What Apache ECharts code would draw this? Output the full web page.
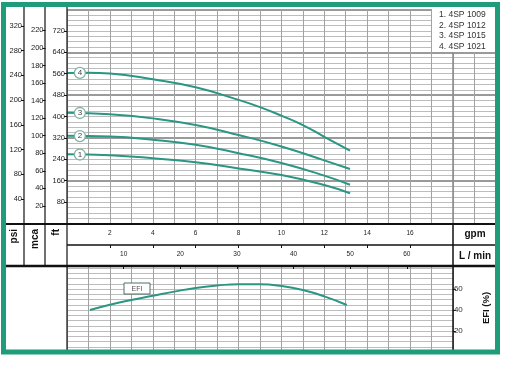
<!DOCTYPE html>
<html><head><meta charset="utf-8">
<script src="https://cdn.jsdelivr.net/npm/echarts@6/dist/echarts.min.js"></script>
<style>html,body{margin:0;padding:0;background:#fff}#c{width:509px;height:367px}</style>
</head><body><div id="c"></div>
<script>
// ---- data (flow in US gpm, head in ft, efficiency in %) ----
const flow4 = [0, 1, 2, 4, 6, 8, 9, 10, 11, 12, 13.2];
const head4 = [563, 564, 561, 539, 509, 462, 435, 403, 368, 324, 272];
const flowA = [0, 2, 4, 6, 8, 10, 12, 13.2];
const head3 = [414, 408, 393, 368, 331, 288, 236, 204];
const head2 = [328, 325, 313, 294, 263, 226, 179, 145];
const head1 = [259, 255, 244, 229, 206, 181, 144, 113];
const markerFlow = [0.6, 0.6, 0.6, 0.6];
const markerHead = [258, 327, 413, 563];
const markerText = ['1', '2', '3', '4'];
const models = ['1. 4SP 1009', '2. 4SP 1012', '3. 4SP 1015', '4. 4SP 1021'];
const efiFlow = [1.07, 2, 3, 4, 5, 6, 7, 8, 9, 10, 11, 12, 13.05];
const efiVal = [40, 45, 49.5, 53.5, 57.5, 61, 63.3, 64.6, 64.5, 62.8, 59, 53, 44.8];
// tick labels
const psiTicks = [40, 80, 120, 160, 200, 240, 280, 320];
const mcaTicks = [20, 40, 60, 80, 100, 120, 140, 160, 180, 200, 220];
const ftTicks = [80, 160, 240, 320, 400, 480, 560, 640, 720];
const gpmTicks = [2, 4, 6, 8, 10, 12, 14, 16];
const lpmTicks = [10, 20, 30, 40, 50, 60];
const efiTicks = [20, 40, 60];
// unit conversions
const FT_PER_M = 3.28084, FT_PER_PSI = 2.30666, LPM_PER_GPM = 3.78541;
const FT_MAX = 800, GPM_MAX_TOP = 20, GPM_MAX = 18;

const pair = (xs, ys) => xs.map((x, i) => [x, ys[i]]);
const FONT = '"Liberation Sans", Arial, sans-serif';
const TEAL = '#2a9683';
const chart = echarts.init(document.getElementById('c'), null, {renderer: 'canvas'});

const hidden = {show: false};
function leftAxis(max, offset, list) {
  return {gridIndex: 0, type: 'value', position: 'left', offset: offset, min: 0, max: max,
    axisLine: {show: false},
    axisTick: {show: true, length: 3, customValues: list, lineStyle: {color: '#111', width: 1}},
    axisLabel: {show: true, customValues: list, fontSize: 7.5, fontFamily: FONT, color: '#222', margin: 2},
    splitLine: {show: false}};
}
function gridAxis(gi, max, interval, color, width, pos) {
  return {gridIndex: gi, type: 'value', position: pos || 'left', min: 0, max: max, interval: interval,
    axisLine: hidden, axisTick: hidden, axisLabel: hidden,
    splitLine: {show: true, lineStyle: {color: color, width: width}}};
}
function flowAxis(gi, max, list) {
  return {gridIndex: gi, type: 'value', position: 'top', min: 0, max: max,
    axisLine: hidden, splitLine: hidden,
    axisTick: {show: true, inside: true, length: 3, customValues: list, lineStyle: {color: '#111'}},
    axisLabel: {show: true, inside: true, customValues: list, margin: 6, fontSize: 6.5, fontFamily: FONT, color: '#222'}};
}

const line = (x1, y1, x2, y2, w, c) => ({type: 'line', z: 50, shape: {x1, y1, x2, y2},
  style: {stroke: c || '#111', lineWidth: w}, silent: true});
const text = (x, y, t, font, align, rot, fill) => ({type: 'text', z: 60, x, y, rotation: rot || 0,
  style: {text: t, font: font, fill: fill || '#111', textAlign: align || 'center', align: align || 'center',
    textVerticalAlign: 'middle', verticalAlign: 'middle'}});

const graphics = [
  line(24, 7, 24, 266, 1.2), line(45, 7, 45, 266, 1.2), line(67, 7, 67, 350, 1.2),
  line(453, 9.5, 453, 224, 1.5, '#8a8a8a'), line(453, 224, 453, 350, 1.5),
  line(5, 224, 495, 224, 2), line(67, 245, 495, 245, 1.3), line(5, 266, 495, 266, 2.5),
  {type: 'rect', z: 55, shape: {x: 432, y: 7, width: 63, height: 45}, style: {fill: '#fff'}},
  text(14, 229, 'psi', 'bold 10px ' + FONT, 'right', Math.PI / 2),
  text(35, 229, 'mca', 'bold 10px ' + FONT, 'right', Math.PI / 2),
  text(56, 229, 'ft', 'bold 10px ' + FONT, 'right', Math.PI / 2),
  text(475, 234, 'gpm', 'bold 10px ' + FONT),
  text(475, 256, 'L / min', 'bold 10px ' + FONT),
  text(486, 308, 'EFI (%)', 'bold 9.5px ' + FONT, 'center', Math.PI / 2),
  {type: 'rect', z: 55, shape: {x: 124, y: 283, width: 26, height: 11},
    style: {fill: '#fff', stroke: '#4f6f66', lineWidth: 1}},
  text(137, 288.7, 'EFI', '7px ' + FONT, 'center', 0, '#555'),
  {type: 'rect', z: 100, shape: {x: 3.5, y: 4.5, width: 494, height: 347.5},
    style: {fill: 'none', stroke: '#1f9d7a', lineWidth: 5}}
];
models.forEach((m, i) => graphics.push(text(439, 15 + i * 10.4, m, '8.5px ' + FONT, 'left', 0, '#333')));

const curveStyle = {color: TEAL, width: 2};
const curve = (d) => ({type: 'line', xAxisIndex: 0, yAxisIndex: 0, data: d, smooth: 0.5,
  showSymbol: false, lineStyle: curveStyle, z: 3, silent: true});

chart.setOption({
  animation: false,
  backgroundColor: '#fff',
  grid: [
    {left: 67, top: 9.5, width: 428.8, height: 214},
    {left: 67, top: 266, width: 385.9, height: 86},
    {left: 67, top: 224, width: 385.9, height: 21},
    {left: 67, top: 245, width: 385.9, height: 21}
  ],
  xAxis: [
    gridAxis(0, GPM_MAX_TOP, 1, '#a2a2a2', 1, 'bottom'),
    gridAxis(1, GPM_MAX, 1, '#a2a2a2', 1, 'bottom'),
    flowAxis(2, GPM_MAX, gpmTicks),
    flowAxis(3, GPM_MAX * LPM_PER_GPM, lpmTicks)
  ],
  yAxis: [
    leftAxis(FT_MAX, 0, ftTicks),
    leftAxis(FT_MAX / FT_PER_M, 21.5, mcaTicks),
    leftAxis(FT_MAX / FT_PER_PSI, 43, psiTicks),
    gridAxis(0, FT_MAX, 20, '#bdbdbd', 1, 'left'),
    gridAxis(0, FT_MAX, 160, '#9a9a9a', 2, 'left'),
    gridAxis(1, 86 / 1.05, 5, '#bdbdbd', 1, 'left'),
    {gridIndex: 1, type: 'value', position: 'right', min: 0, max: 86 / 1.05,
      axisLine: {show: false}, splitLine: hidden,
      axisTick: {show: true, length: 3, customValues: efiTicks, lineStyle: {color: '#111'}},
      axisLabel: {show: true, customValues: efiTicks, fontSize: 8, fontFamily: FONT, color: '#333', margin: 1}},
    {gridIndex: 2, type: 'value', show: false, min: 0, max: 1},
    {gridIndex: 3, type: 'value', show: false, min: 0, max: 1}
  ],
  graphic: {elements: graphics},
  series: [
    curve(pair(flowA, head1)),
    curve(pair(flowA, head2)),
    curve(pair(flowA, head3)),
    curve(pair(flow4, head4)),
    {type: 'scatter', xAxisIndex: 0, yAxisIndex: 0, z: 5, silent: true,
      data: markerFlow.map((f, i) => ({value: [f, markerHead[i]], name: markerText[i]})),
      symbol: 'circle', symbolSize: 11,
      itemStyle: {color: '#fff', borderColor: '#7fb5a8', borderWidth: 1.3, opacity: 1},
      label: {show: true, position: 'inside', formatter: p => p.name, fontSize: 8, fontFamily: FONT, color: '#444'}},
    {type: 'line', xAxisIndex: 1, yAxisIndex: 5, data: pair(efiFlow, efiVal), smooth: 0.5,
      showSymbol: false, lineStyle: curveStyle, z: 3, silent: true}
  ]
});
</script></body></html>
